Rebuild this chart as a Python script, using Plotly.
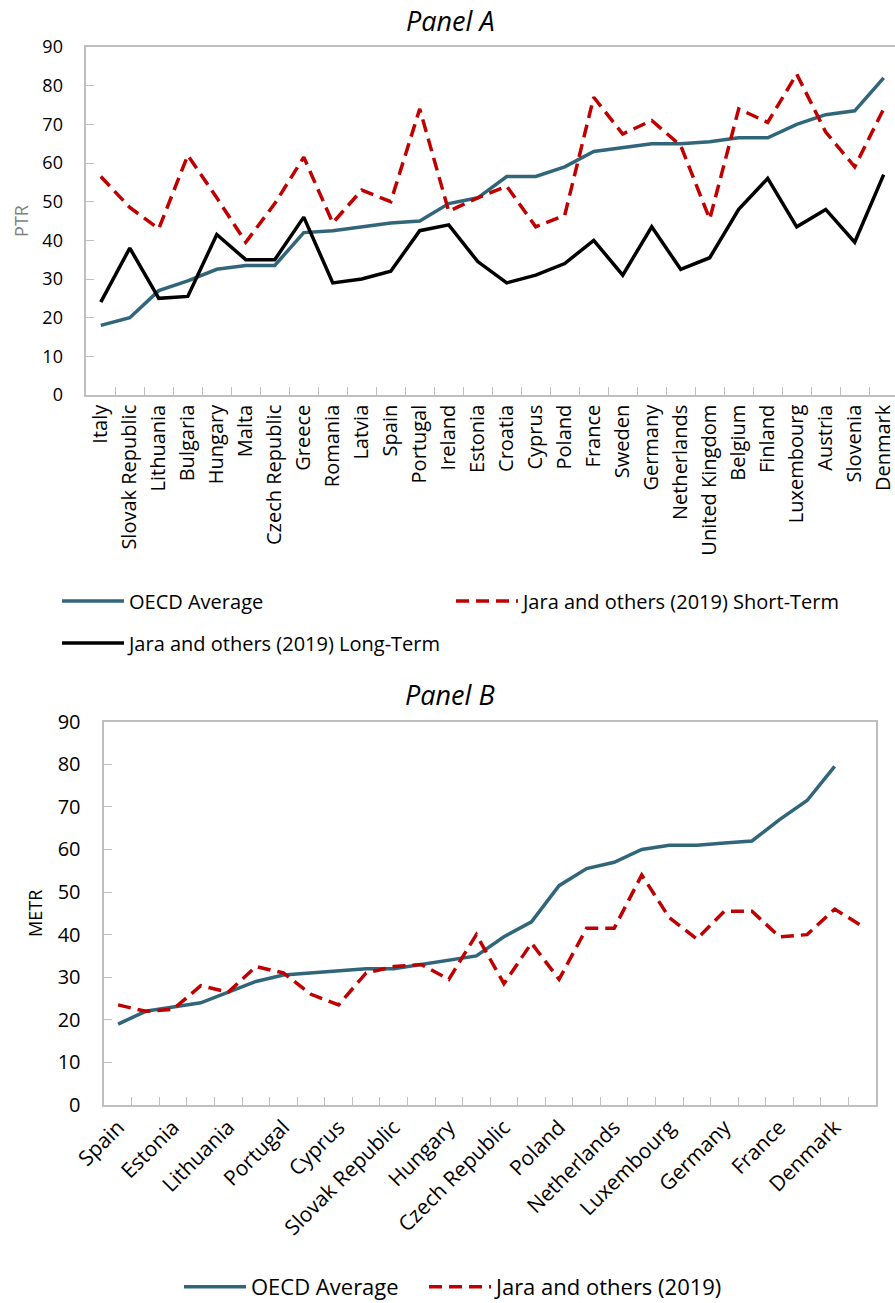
import plotly.graph_objects as go

# ---------------- Panel A: participation tax rates ----------------
countries_a = [
    "Italy", "Slovak Republic", "Lithuania", "Bulgaria", "Hungary", "Malta",
    "Czech Republic", "Greece", "Romania", "Latvia", "Spain", "Portugal",
    "Ireland", "Estonia", "Croatia", "Cyprus", "Poland", "France", "Sweden",
    "Germany", "Netherlands", "United Kingdom", "Belgium", "Finland",
    "Luxembourg", "Austria", "Slovenia", "Denmark",
]
oecd_a = [18, 20, 27, 29.5, 32.5, 33.5, 33.5, 42, 42.5, 43.5, 44.5, 45, 49.5, 51,
          56.5, 56.5, 59, 63, 64, 65, 65, 65.5, 66.5, 66.5, 70, 72.5, 73.5, 82]
short_a = [56.5, 48.5, 43, 62, 51, 39.5, 49.5, 61.5, 44.5, 53, 50, 74, 47.5, 51,
           54, 43.5, 46.5, 77, 67.5, 71, 64.5, 45.5, 74, 70.5, 83, 68, 59, 74]
long_a = [24, 38, 25, 25.5, 41.5, 35, 35, 46, 29, 30, 32, 42.5, 44, 34.5,
          29, 31, 34, 40, 31, 43.5, 32.5, 35.5, 48, 56, 43.5, 48, 39.5, 57]

# ---------------- Panel B: marginal effective tax rates ----------------
countries_b = [
    "Spain", "Latvia", "Estonia", "Ireland", "Lithuania", "Malta", "Portugal",
    "Greece", "Cyprus", "Bulgaria", "Slovak Republic", "Italy", "Hungary",
    "Romania", "Czech Republic", "Slovenia", "Poland", "United Kingdom",
    "Netherlands", "Sweden", "Luxembourg", "Austria", "Germany", "Finland",
    "France", "Belgium", "Denmark", "Croatia",
]
# every other country carries a tick label
labels_b = [c if i % 2 == 0 else "" for i, c in enumerate(countries_b)]
oecd_b = [19, 22, 23, 24, 26.5, 29, 30.5, 31, 31.5, 32, 32, 33, 34, 35, 39.5,
          43, 51.5, 55.5, 57, 60, 61, 61, 61.5, 62, 67, 71.5, 79.5, None]
jara_b = [23.5, 22, 22.5, 28, 26.5, 32.5, 31, 26, 23.5, 31, 32.5, 33, 29.5, 40,
          28.5, 38, 29.5, 41.5, 41.5, 54, 44, 39, 45.5, 45.5, 39.5, 40, 46, 42]

TEAL = "#31667a"
RED = "#c00000"
BLACK = "#000000"
AXIS = "#bfbfbf"
FONT = "Open Sans"
DASH = "13px,7px"

W, H = 895, 1303

fig = go.Figure()

fig.add_trace(go.Scatter(x=countries_a, y=oecd_a, mode="lines", name="OECD Average",
                         line=dict(color=TEAL, width=3.5), xaxis="x", yaxis="y",
                         legend="legend", showlegend=True))
fig.add_trace(go.Scatter(x=countries_a, y=short_a, mode="lines",
                         name="Jara and others (2019) Short-Term",
                         line=dict(color=RED, width=3.5, dash=DASH), xaxis="x", yaxis="y",
                         legend="legend2", showlegend=True))
fig.add_trace(go.Scatter(x=countries_a, y=long_a, mode="lines",
                         name="Jara and others (2019) Long-Term",
                         line=dict(color=BLACK, width=3.5), xaxis="x", yaxis="y",
                         legend="legend3", showlegend=True))

fig.add_trace(go.Scatter(x=countries_b, y=oecd_b, mode="lines", name="OECD Average",
                         line=dict(color=TEAL, width=3.5), xaxis="x2", yaxis="y2",
                         legend="legend4", showlegend=True))
fig.add_trace(go.Scatter(x=countries_b, y=jara_b, mode="lines", name="Jara and others (2019)",
                         line=dict(color=RED, width=3.5, dash=DASH), xaxis="x2", yaxis="y2",
                         legend="legend5", showlegend=True))


def px_x(v):
    return v / W


def px_y(v):
    return 1 - v / H


common_axis = dict(showline=True, linecolor=AXIS, linewidth=1.5, showgrid=False,
                   zeroline=False, ticks="inside", ticklen=8, tickcolor=AXIS,
                   tickwidth=1.2, automargin=False)

legend_common = dict(xanchor="left", yanchor="middle", itemwidth=62,
                     bgcolor="rgba(0,0,0,0)")

fig.update_layout(
    width=W, height=H,
    margin=dict(l=0, r=0, t=0, b=0, autoexpand=False),
    showlegend=True,
    paper_bgcolor="white", plot_bgcolor="white",
    font=dict(family=FONT, color="#000000"),
    xaxis=dict(common_axis, domain=[px_x(86.3), 1], anchor="y", type="category",
               categoryorder="array", categoryarray=countries_a,
               range=[-0.5, 27.39], tickson="boundaries", mirror=True,
               tickangle=-90, tickfont=dict(size=20, family=FONT)),
    yaxis=dict(common_axis, domain=[px_y(395), px_y(47)], anchor="x",
               range=[0, 90], dtick=10, tickfont=dict(size=18, family=FONT),
               ticklabelstandoff=18,
               title=dict(text="PTR", font=dict(size=18, color="#7f7f7f", family=FONT),
                          standoff=9)),
    xaxis2=dict(common_axis, domain=[px_x(104.3), px_x(876)], anchor="y2",
                type="category", categoryorder="array", categoryarray=countries_b,
                tickmode="array", tickvals=countries_b, ticktext=labels_b,
                range=[-0.5, 27.5], tickson="boundaries", mirror=True,
                tickangle=-45, tickfont=dict(size=21, family=FONT)),
    yaxis2=dict(common_axis, domain=[px_y(1105), px_y(721.7)], anchor="x2",
                range=[0, 90], dtick=10, mirror=True, tickfont=dict(size=20, family=FONT),
                ticklabelstandoff=18,
                title=dict(text="METR", font=dict(size=18, color="#000000", family=FONT),
                           standoff=10)),
    legend=dict(legend_common, x=px_x(57), y=px_y(601), font=dict(size=20, family=FONT)),
    legend2=dict(legend_common, x=px_x(451), y=px_y(601), font=dict(size=20, family=FONT)),
    legend3=dict(legend_common, x=px_x(57), y=px_y(643), font=dict(size=20, family=FONT)),
    legend4=dict(legend_common, x=px_x(179), y=px_y(1287), font=dict(size=22, family=FONT)),
    legend5=dict(legend_common, x=px_x(424), y=px_y(1287), font=dict(size=22, family=FONT)),
    annotations=[
        dict(text="<i>Panel A</i>", x=px_x(450), y=px_y(21), xref="paper", yref="paper",
             showarrow=False, font=dict(size=27, family=FONT), xanchor="center",
             yanchor="middle"),
        dict(text="<i>Panel B</i>", x=px_x(450), y=px_y(694), xref="paper", yref="paper",
             showarrow=False, font=dict(size=27, family=FONT), xanchor="center",
             yanchor="middle"),
    ],
)

fig.write_html("out.html", config={"displayModeBar": False})
